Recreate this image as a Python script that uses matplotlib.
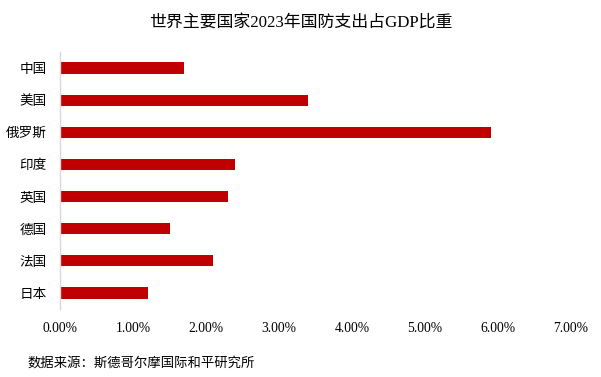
import matplotlib.pyplot as plt
from matplotlib.ticker import FuncFormatter

plt.rcParams['font.family'] = ['Liberation Serif', 'Noto Sans CJK SC', 'DejaVu Sans']

countries = ['中国', '美国', '俄罗斯', '印度', '英国', '德国', '法国', '日本']
share = [1.7, 3.4, 5.9, 2.4, 2.3, 1.5, 2.1, 1.2]  # % of GDP
xticks = [0, 1, 2, 3, 4, 5, 6, 7]

fig = plt.figure(figsize=(6.01, 3.77), dpi=100)
ax = fig.add_axes([60 / 601, 68 / 377, 511 / 601, 257 / 377])

ax.barh(range(len(countries)), share, height=0.35, color='#C00000')

ax.set_ylim(len(countries) - 0.5, -0.5)
ax.set_xlim(0, 7)
ax.set_yticks(range(len(countries)))
ax.set_yticklabels(countries, fontsize=9.8)
ax.set_xticks(xticks)
ax.xaxis.set_major_formatter(FuncFormatter(lambda v, p: '{:.2f}%'.format(v)))
ax.tick_params(axis='x', length=0, pad=9, labelsize=9.8)
ax.tick_params(axis='y', length=0, pad=9.5)

for s in ['top', 'right', 'bottom']:
    ax.spines[s].set_visible(False)
ax.spines['left'].set_color('#d9d9d9')
ax.spines['left'].set_linewidth(1.0)

fig.text(0.5, 1 - 24 / 377, '世界主要国家2023年国防支出占GDP比重', ha='center', va='center', fontsize=12.2)
fig.text(28 / 601, 1 - 363 / 377, '数据来源：斯德哥尔摩国际和平研究所', ha='left', va='center', fontsize=9.6)

fig.savefig('out.png', dpi=100)
